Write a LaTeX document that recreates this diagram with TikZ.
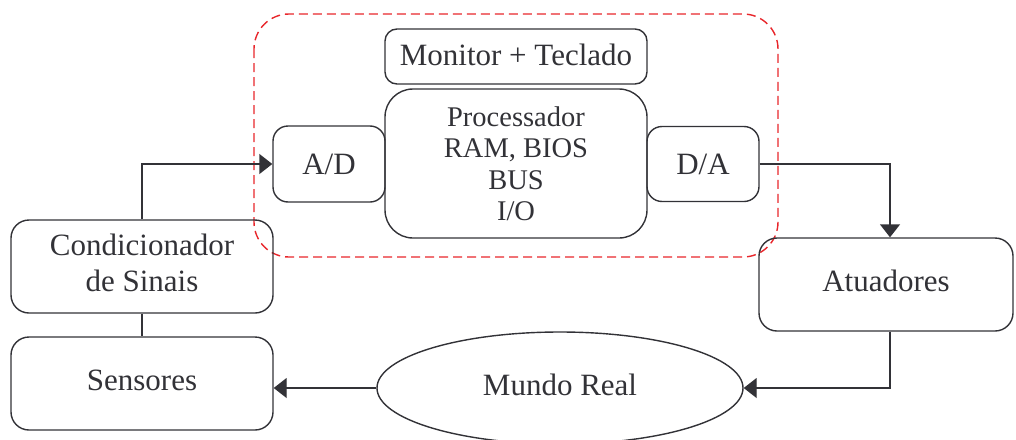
\documentclass[tikz,border=0pt]{standalone}
\usepackage{fontspec}
\setmainfont{Liberation Serif}
\usetikzlibrary{arrows.meta,shapes.geometric,calc}
\definecolor{ink}{RGB}{50,50,55}
\definecolor{frame}{RGB}{232,38,43}
\begin{document}
\begin{tikzpicture}[x=1pt,y=-1pt,
  box/.style={draw=ink,line width=1.4pt,rounded corners=#1,inner sep=0pt,
    text=ink,font=\fontsize{31}{36}\selectfont,align=center},
  box/.default=16pt,
  lift/.style={text depth=7pt},
  conn/.style={draw=ink,line width=1.4pt},
  arr/.style={conn,-{Triangle[length=13pt,width=20pt]}}]
\useasboundingbox (0,0) rectangle (1016,439);
% microcomputer boundary
\draw[frame,line width=1.4pt,dash pattern=on 9pt off 5pt,rounded corners=35pt]
  (254,14) rectangle (778,257);
% blocks
\node[box=12pt,minimum width=262pt,minimum height=55pt,text depth=3pt] (mon) at (516,56.5) {Monitor + Teclado};
\node[box=28pt,minimum width=262pt,minimum height=149pt,
  font=\fontsize{28.5}{31.5}\selectfont] (proc) at (516,163.5)
  {Processador\\RAM, BIOS\\BUS\\I/O};
\node[box=15pt,minimum width=112pt,minimum height=76pt] (ad) at (329,164) {A/D};
\node[box=15pt,minimum width=112pt,minimum height=75pt] (da) at (703,164) {D/A};
\node[box=18pt,lift,minimum width=262pt,minimum height=93pt] (cond) at (142,266.5) {Condicionador\\de Sinais};
\node[box=18pt,lift,minimum width=262pt,minimum height=93pt] (sens) at (142,383.5) {Sensores};
\node[box=18pt,lift,minimum width=254pt,minimum height=93pt] (atu) at (886,284.5) {Atuadores};
\node[draw=ink,line width=1.4pt,ellipse,inner sep=0pt,minimum width=366pt,minimum height=112pt,
  text=ink,font=\fontsize{31}{36}\selectfont,lift] (mundo) at (560,388) {Mundo Real};
% signal path
\draw[arr] (cond.north) |- (ad.west);
\draw[conn] (cond.south) -- (sens.north);
\draw[arr] (da.east) -| ([xshift=4pt]atu.north);
\draw[arr] ([xshift=4pt]atu.south) |- (mundo.east);
\draw[arr] (mundo.west) -- (mundo.west -| sens.east);
\end{tikzpicture}
\end{document}
